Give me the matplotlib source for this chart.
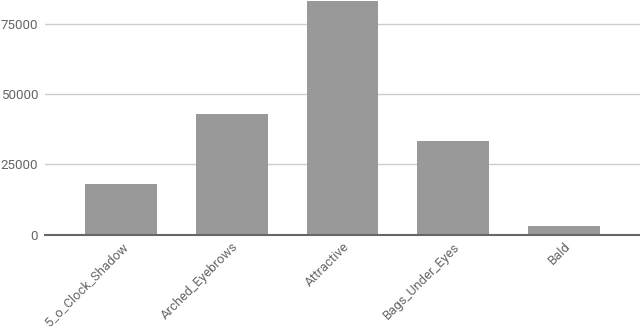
import matplotlib
matplotlib.use("Agg")
import matplotlib.pyplot as plt

categories = ["5_o_Clock_Shadow", "Arched_Eyebrows", "Attractive", "Bags_Under_Eyes", "Bald"]
values = [18000, 42800, 83000, 33200, 3100]
yticks = [0, 25000, 50000, 75000]

plt.rcParams['font.family'] = ['Roboto', 'DejaVu Sans']

fig = plt.figure(figsize=(6.4, 3.31), dpi=100)
ax = fig.add_axes([45/640, (331-234.5)/331, 1 - 45/640, 234.5/331])

x = list(range(len(categories)))
ax.bar(x, values, width=0.65, color="#999999", zorder=3)
ax.set_xlim(-0.687, len(categories) - 1 + 0.687)
ax.set_ylim(0, 83400)
ax.set_yticks(yticks)
ax.set_yticklabels([str(v) for v in yticks], fontsize=9.6, color="#666666")
ax.yaxis.grid(True, color="#cccccc", linewidth=1, zorder=0)
ax.set_xticks(x)
ax.set_xticklabels(categories, rotation=45, ha='right', va='top', rotation_mode='anchor',
                   fontsize=9.4, color="#666666")
ax.tick_params(axis='both', length=0)
ax.tick_params(axis='y', pad=5)
ax.tick_params(axis='x', pad=4)
for s in ['top', 'right', 'left']:
    ax.spines[s].set_visible(False)
ax.spines['bottom'].set_color('#666666')
ax.spines['bottom'].set_linewidth(1.5)
ax.spines['bottom'].set_zorder(4)

fig.savefig("out.png", dpi=100)
